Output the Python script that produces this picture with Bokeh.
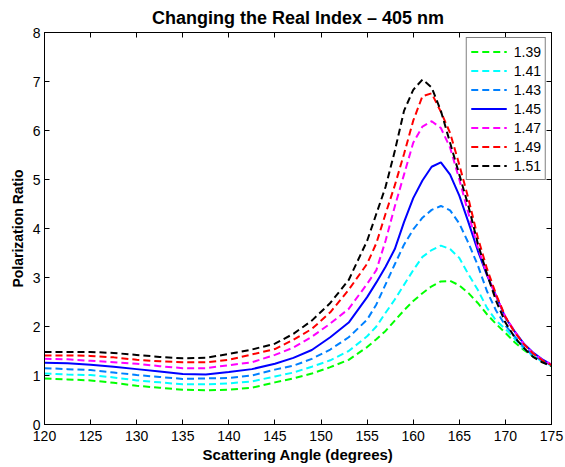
from bokeh.plotting import figure
from bokeh.models import LinearAxis, Range1d, FixedTicker, Legend, LegendItem
from bokeh.embed import file_html
from bokeh.resources import INLINE

# ---- data ----
angle = [120, 122.5, 125, 127.5, 130, 132.5, 135, 137.5, 140, 142.5, 145, 147, 149, 151, 153,
         155, 156, 157, 158, 159, 160, 161, 162, 163, 164, 165, 166, 167, 168, 169, 170,
         171, 172, 173, 174, 175]

ratio_139 = [0.94, 0.92, 0.90, 0.85, 0.79, 0.75, 0.71, 0.70, 0.71, 0.75, 0.86, 0.94, 1.04, 1.17, 1.32,
             1.58, 1.74, 1.91, 2.12, 2.33, 2.52, 2.68, 2.82, 2.92, 2.93, 2.84, 2.68, 2.48, 2.25, 2.05, 1.87,
             1.68, 1.52, 1.39, 1.28, 1.19]
ratio_141 = [1.04, 1.02, 1.01, 0.96, 0.90, 0.86, 0.82, 0.82, 0.84, 0.88, 0.98, 1.06, 1.18, 1.31, 1.50,
             1.80, 2.00, 2.28, 2.55, 2.85, 3.15, 3.42, 3.56, 3.65, 3.58, 3.40, 3.06, 2.75, 2.38, 2.12, 1.95,
             1.75, 1.55, 1.40, 1.29, 1.20]
ratio_143 = [1.15, 1.13, 1.11, 1.06, 1.01, 0.97, 0.93, 0.94, 0.95, 1.00, 1.12, 1.20, 1.34, 1.53, 1.78,
             2.14, 2.45, 2.86, 3.27, 3.67, 3.98, 4.22, 4.38, 4.46, 4.37, 4.10, 3.70, 3.25, 2.72, 2.32, 2.02,
             1.80, 1.58, 1.42, 1.30, 1.21]
ratio_145 = [1.26, 1.25, 1.22, 1.18, 1.13, 1.08, 1.03, 1.02, 1.07, 1.13, 1.24, 1.36, 1.52, 1.78, 2.08,
             2.60, 2.90, 3.22, 3.58, 4.13, 4.62, 4.98, 5.26, 5.35, 5.10, 4.67, 4.12, 3.55, 3.05, 2.62, 2.18,
             1.90, 1.65, 1.47, 1.33, 1.22]
ratio_147 = [1.34, 1.33, 1.30, 1.27, 1.24, 1.19, 1.15, 1.15, 1.21, 1.27, 1.42, 1.57, 1.79, 2.06, 2.36,
             2.87, 3.15, 3.75, 4.45, 5.10, 5.75, 6.08, 6.19, 6.05, 5.65, 5.00, 4.30, 3.62, 3.07, 2.62, 2.20,
             1.90, 1.64, 1.46, 1.32, 1.22]
ratio_149 = [1.41, 1.41, 1.40, 1.37, 1.32, 1.29, 1.27, 1.27, 1.32, 1.43, 1.54, 1.73, 1.95, 2.29, 2.75,
             3.28, 3.70, 4.30, 4.88, 5.52, 6.20, 6.70, 6.76, 6.38, 5.95, 5.30, 4.60, 3.82, 3.18, 2.65, 2.20,
             1.88, 1.64, 1.45, 1.31, 1.21]
ratio_151 = [1.48, 1.48, 1.48, 1.46, 1.42, 1.38, 1.35, 1.36, 1.44, 1.53, 1.65, 1.85, 2.12, 2.48, 2.95,
             3.75, 4.30, 4.85, 5.58, 6.40, 6.83, 7.04, 6.88, 6.40, 5.75, 5.10, 4.45, 3.70, 3.07, 2.52, 2.08,
             1.78, 1.56, 1.38, 1.27, 1.19]

series_values = [ratio_139, ratio_141, ratio_143, ratio_145, ratio_147, ratio_149, ratio_151]
series_labels = ["1.39", "1.41", "1.43", "1.45", "1.47", "1.49", "1.51"]
series_colors = ["#00ff00", "#00ffff", "#0080ff", "#0000ff", "#ff00ff", "#ff0000", "#000000"]
series_dashes = ["7 4", "7 4", "7 4", "solid", "7 4", "7 4", "7 4"]

x_ticks = [120, 125, 130, 135, 140, 145, 150, 155, 160, 165, 170, 175]
y_ticks = [0, 1, 2, 3, 4, 5, 6, 7, 8]

FONT = "Liberation Sans"

p = figure(width=565, height=467, x_range=Range1d(120, 175), y_range=Range1d(0, 8),
           output_backend="svg", toolbar_location=None,
           min_border_left=44, min_border_right=14, min_border_top=32, min_border_bottom=43)
p.background_fill_color = "white"
p.border_fill_color = "white"
p.outline_line_color = "black"
p.outline_line_width = 1
p.xgrid.visible = False
p.ygrid.visible = False

p.title.text = "Changing the Real Index \u2013 405 nm"
p.title.align = "center"
p.title.text_font = FONT
p.title.text_font_size = "18px"
p.title.text_font_style = "bold"
p.title.text_color = "black"

def style_axis(ax, ticks, show_labels):
    ax.ticker = FixedTicker(ticks=ticks)
    ax.major_tick_in = 5
    ax.major_tick_out = 0
    ax.minor_tick_line_color = None
    ax.axis_line_color = "black"
    ax.major_tick_line_color = "black"
    ax.major_label_text_font = FONT
    ax.major_label_text_color = "black"
    ax.axis_label_text_color = "black"
    if show_labels:
        ax.major_label_text_font_size = "14px"
    else:
        ax.major_label_text_font_size = "0px"
        ax.major_label_standoff = 0

xa = p.xaxis[0]
style_axis(xa, x_ticks, True)
xa.major_label_standoff = 6
xa.axis_label = "Scattering Angle (degrees)"
xa.axis_label_text_font = FONT
xa.axis_label_text_font_size = "15px"
xa.axis_label_text_font_style = "bold"
xa.axis_label_standoff = 2

ya = p.yaxis[0]
style_axis(ya, y_ticks, True)
ya.major_label_standoff = 4
ya.axis_label = "Polarization Ratio"
ya.axis_label_text_font = FONT
ya.axis_label_text_font_size = "14px"
ya.axis_label_text_font_style = "bold"
ya.axis_label_standoff = 4

top_axis = LinearAxis()
style_axis(top_axis, x_ticks, False)
p.add_layout(top_axis, "above")
right_axis = LinearAxis()
style_axis(right_axis, y_ticks, False)
p.add_layout(right_axis, "right")

items = []
for vals, lab, col, dash in zip(series_values, series_labels, series_colors, series_dashes):
    r = p.line(angle, vals, line_color=col, line_width=2, line_dash=dash)
    items.append(LegendItem(label=lab, renderers=[r]))

legend = Legend(items=items, location="top_right")
legend.margin = 5
legend.padding = 4
legend.spacing = 0
legend.glyph_width = 36
legend.glyph_height = 19
legend.label_height = 19
legend.label_standoff = 7
legend.label_text_font = FONT
legend.label_text_font_size = "14px"
legend.label_text_color = "black"
legend.border_line_color = "black"
legend.border_line_width = 1
legend.background_fill_alpha = 1.0
p.add_layout(legend, "center")

open("out.html", "w").write(file_html(p, INLINE))
